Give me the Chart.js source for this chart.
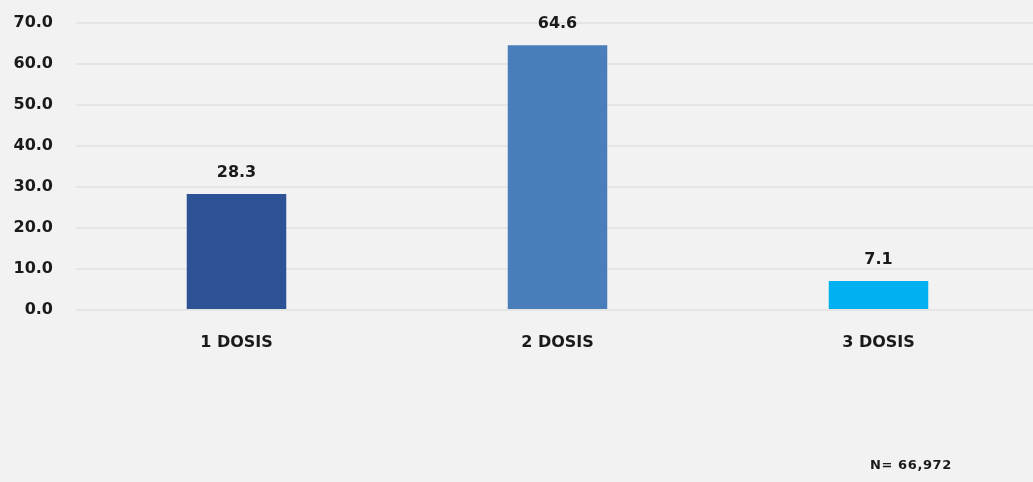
<!DOCTYPE html>
<html>
<head>
<meta charset="utf-8">
<script src="https://cdn.jsdelivr.net/npm/chart.js@4"></script>
<style>
    html, body { margin: 0; padding: 0; background: #f2f2f2; overflow: hidden; }
    #wrap { position: relative; width: 1042px; height: 482px; }
    #note {
        position: absolute; left: 870px; top: 457px;
        font: bold 13px "DejaVu Sans", sans-serif; color: #1a1a1a;
        letter-spacing: 0.6px;
    }
</style>
</head>
<body>
<div id="wrap">
    <canvas id="dosisChart" width="1042" height="482"></canvas>
    <div id="note">N= 66,972</div>
</div>
<script>
const categories = ['1 DOSIS', '2 DOSIS', '3 DOSIS'];
const values = [28.3, 64.6, 7.1];
const barColors = ['#2d5396', '#4a7ebb', '#00b0f0'];
const yTicks = [0, 10, 20, 30, 40, 50, 60, 70];

const fontFamily = '"DejaVu Sans", sans-serif';

// draws the value above each bar
const valueLabels = {
    id: 'valueLabels',
    afterDatasetsDraw(chart) {
        const ctx = chart.ctx;
        const meta = chart.getDatasetMeta(0);
        ctx.save();
        ctx.font = `bold 16px ${fontFamily}`;
        ctx.fillStyle = '#1a1a1a';
        ctx.textAlign = 'center';
        ctx.textBaseline = 'middle';
        meta.data.forEach(function (bar, i) {
            ctx.fillText(values[i].toFixed(1), bar.x, bar.y - 21);
        });
        ctx.restore();
    }
};

new Chart(document.getElementById('dosisChart'), {
    type: 'bar',
    data: {
        labels: categories,
        datasets: [{
            data: values,
            backgroundColor: barColors,
            barPercentage: 0.31,
            categoryPercentage: 1
        }]
    },
    options: {
        responsive: false,
        animation: false,
        layout: {
            padding: { top: 23, right: 3, left: 0, bottom: 0 }
        },
        plugins: {
            legend: { display: false },
            tooltip: { enabled: false }
        },
        scales: {
            x: {
                grid: { display: false, drawTicks: false },
                border: { display: false },
                ticks: {
                    padding: 23,
                    color: '#1a1a1a',
                    font: { family: fontFamily, weight: 'bold', size: 16 }
                },
                afterFit: function (scale) {
                    scale.height = 172;
                    scale.paddingLeft = 0;
                    scale.paddingRight = 0;
                }
            },
            y: {
                min: 0,
                max: 70,
                afterBuildTicks: function (scale) {
                    scale.ticks = yTicks.map(function (v) { return { value: v }; });
                },
                grid: { color: '#e5e5e5', lineWidth: 2, drawTicks: false },
                border: { display: false },
                ticks: {
                    padding: 23,
                    color: '#1a1a1a',
                    font: { family: fontFamily, weight: 'bold', size: 16 },
                    callback: function (v) { return Number(v).toFixed(1); }
                },
                afterFit: function (scale) {
                    scale.width = 76;
                    scale.paddingTop = 0;
                    scale.paddingBottom = 0;
                }
            }
        }
    },
    plugins: [valueLabels]
});
</script>
</body>
</html>
